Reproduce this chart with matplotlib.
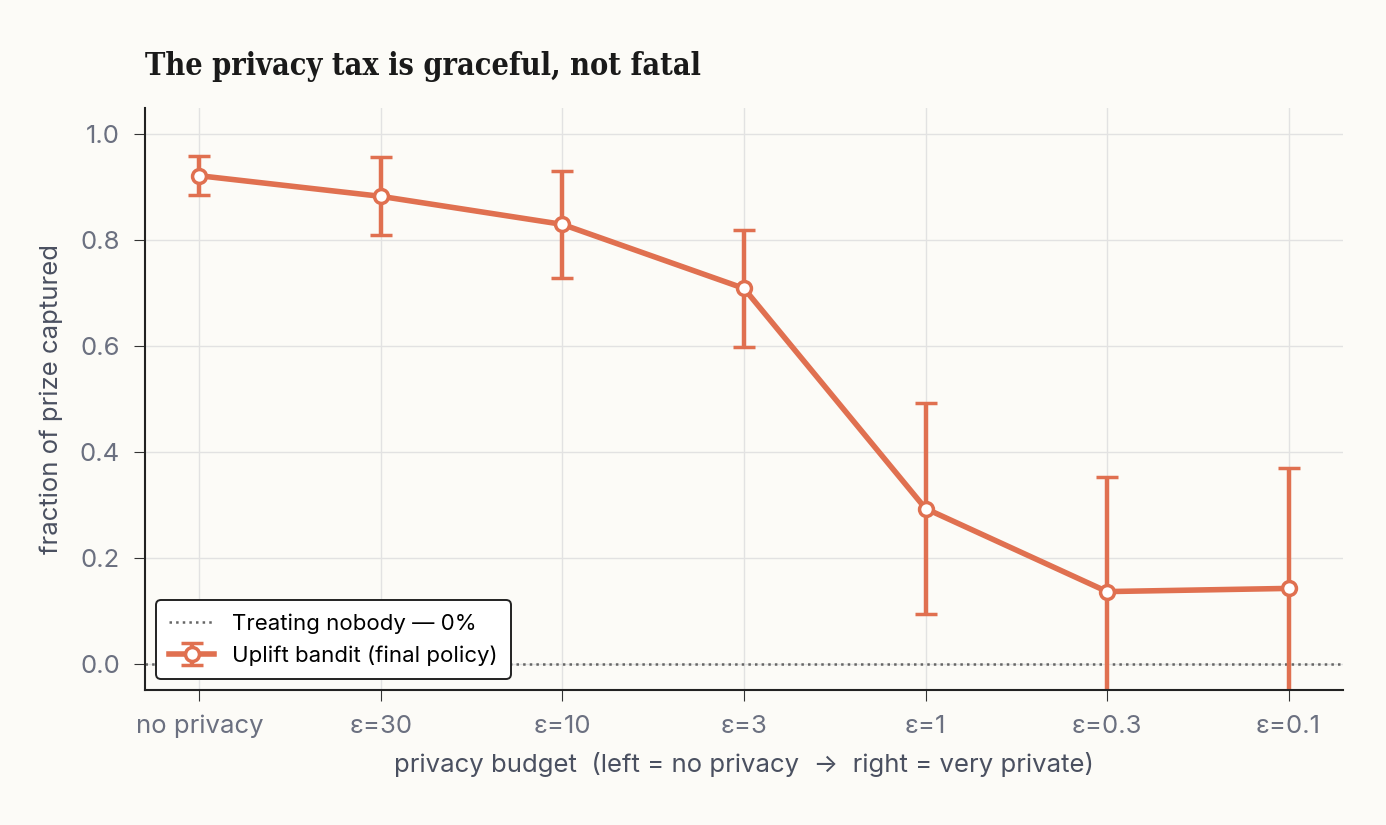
import matplotlib
matplotlib.use("Agg")
import matplotlib.pyplot as plt
import numpy as np

labels = ["no privacy", "ε=30", "ε=10", "ε=3", "ε=1", "ε=0.3", "ε=0.1"]
means = [0.922, 0.883, 0.830, 0.709, 0.293, 0.136, 0.142]
err_lo = [0.037, 0.073, 0.101, 0.110, 0.200, 0.216, 0.228]
err_hi = [0.037, 0.074, 0.101, 0.110, 0.200, 0.216, 0.228]

bg = "#fcfbf7"
col = "#e07050"
plt.rcParams['font.family'] = ['Inter', 'DejaVu Sans']

fig = plt.figure(figsize=(13.86, 8.25), dpi=100, facecolor=bg)
ax = fig.add_axes([145/1386, 1-690/825, (1343-145)/1386, (690-108)/825])
ax.set_facecolor(bg)

x = np.arange(len(labels))
ax.axhline(0, color="#666666", ls=":", lw=1.8, label="Treating nobody — 0%")
ax.errorbar(x, means, yerr=[err_lo, err_hi], color=col, lw=4, elinewidth=3.2,
            capsize=8, capthick=3.2, marker="o", ms=10, mfc="white", mec=col,
            mew=2.5, label="Uplift bandit (final policy)")

ax.set_xlim(-0.3, 6.3)
ax.set_ylim(-0.05, 1.05)
ax.set_xticks(x)
ax.set_xticklabels(labels)
ax.set_yticks([0, 0.2, 0.4, 0.6, 0.8, 1.0])
ax.tick_params(labelsize=18.5, length=8, labelcolor="#6b7080", pad=10, color="#333333")
ax.grid(True, color="#e2e2e2", lw=1)
ax.set_axisbelow(True)
for s in ["top", "right"]:
    ax.spines[s].set_visible(False)
for s in ["left", "bottom"]:
    ax.spines[s].set_color("#222222")
    ax.spines[s].set_linewidth(1.5)

ax.set_xlabel("privacy budget  (left = no privacy  →  right = very private)",
              fontsize=18.5, color="#4a5060", labelpad=10)
ax.set_ylabel("fraction of prize captured", fontsize=18.5, color="#4a5060", labelpad=12)
fig.text(145/1386, 1-67/825, "The privacy tax is graceful, not fatal",
         fontsize=22, fontweight="bold", family="DejaVu Serif", color="#1a1a1a",
         va="center", fontstretch="condensed")

leg = ax.legend(loc="lower left", fontsize=16, frameon=True, facecolor="white",
                edgecolor="#222222", fancybox=True, borderpad=0.6, framealpha=1)
leg.get_frame().set_linewidth(1.4)

fig.savefig("out.png", dpi=100, facecolor=bg)
